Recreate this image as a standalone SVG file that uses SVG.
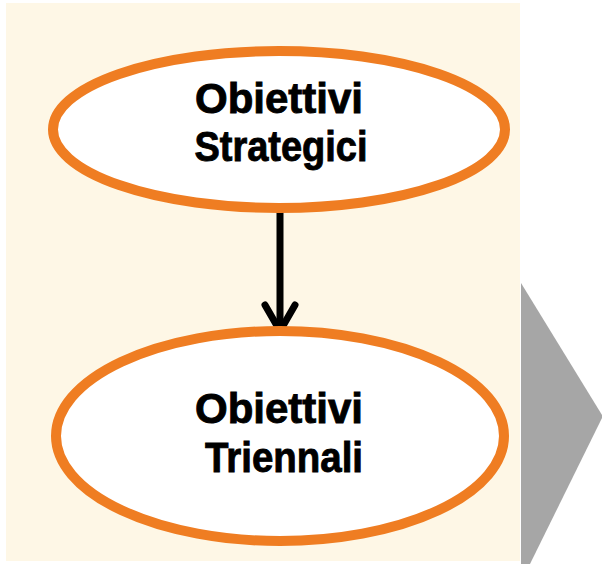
<svg xmlns="http://www.w3.org/2000/svg" width="602" height="564" viewBox="0 0 602 564">
  <style>
    .panel { fill: #FEF7E6; }
    .node-shape { fill: #FFFFFF; stroke: #EF7D22; stroke-width: 10; }
    .label { font-family: "Liberation Sans", Arial, sans-serif; font-weight: bold; font-size: 42px; fill: #000000; stroke: #000000; stroke-width: 0.9; text-anchor: middle; }
    .edge { fill: none; stroke: #000000; stroke-width: 7; }
    .edge-head { fill: none; stroke: #000000; stroke-width: 7; stroke-linecap: round; stroke-linejoin: miter; }
  </style>

  <!-- background panel -->
  <rect class="panel" x="6" y="3" width="514" height="558"/>

  <!-- grey step arrow on the right -->
  <polygon points="521,283 602,415 602,418 530,564 521,564" fill="#A6A6A6"/>

  <!-- connectors -->
  <g id="connectors">
    <line class="edge" x1="280" y1="212" x2="280" y2="329"/>
    <polyline class="edge-head" points="265,305 280,331 295,305"/>
  </g>

  <g id="node-strategici">
    <ellipse class="node-shape" cx="279" cy="129.5" rx="226" ry="78.5"/>
    <text class="label" x="279" y="113" textLength="168" lengthAdjust="spacingAndGlyphs">Obiettivi</text>
    <text class="label" x="281" y="161" textLength="173" lengthAdjust="spacingAndGlyphs">Strategici</text>
  </g>

  <g id="node-triennali">
    <ellipse class="node-shape" cx="280" cy="436" rx="224" ry="105"/>
    <text class="label" x="279" y="423" textLength="168" lengthAdjust="spacingAndGlyphs">Obiettivi</text>
    <text class="label" x="284" y="472" textLength="158" lengthAdjust="spacingAndGlyphs">Triennali</text>
  </g>
</svg>
